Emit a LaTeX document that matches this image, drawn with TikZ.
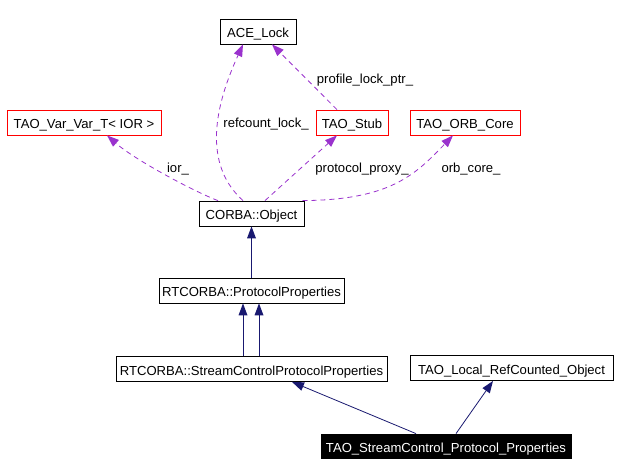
\documentclass[tikz,border=0pt]{standalone}
\usepackage{fontspec}
\setmainfont{Liberation Sans}
\usetikzlibrary{arrows.meta}
\definecolor{usecol}{HTML}{9A32CD}
\definecolor{inhcol}{HTML}{191970}
\begin{document}
\begin{tikzpicture}[x=1pt,y=-1pt,
  every node/.style={font=\fontsize{13.1}{15}\selectfont},
  box/.style={draw=black,line width=0.8pt,fill=white,inner sep=0pt,minimum height=25pt,text height=12.5pt,text depth=0pt},
  redbox/.style={box,draw=red},
  hlbox/.style={box,fill=black,text=white},
  use/.style={draw=usecol,line width=0.8pt,dash pattern=on 5pt off 4pt,-{Triangle[length=12pt,width=9pt,fill=usecol,line width=0pt]}},
  inh/.style={draw=inhcol,line width=0.8pt,-{Triangle[length=12pt,width=9pt,fill=inhcol,line width=0pt]}},
  lbl/.style={inner sep=1pt}]
\useasboundingbox (0,0) rectangle (619,475);
\fill[white] (0,0) rectangle (619,475);

\node[box, minimum width=76pt] (ace) at (258,31.5) {ACE\_Lock};
\node[redbox, minimum width=154pt] (var) at (84,122.5) {TAO\_Var\_Var\_T< IOR >};
\node[redbox, minimum width=72pt] (stub) at (352,122.5) {TAO\_Stub};
\node[redbox, minimum width=110pt] (orb) at (465,122.5) {TAO\_ORB\_Core};
\node[box, minimum width=105pt] (obj) at (251.5,213.5) {CORBA::Object};
\node[box, minimum width=185pt] (pp) at (251.5,290.5) {RTCORBA::ProtocolProperties};
\node[box, minimum width=271pt] (scpp) at (251.5,369) {RTCORBA::StreamControlProtocolProperties};
\node[box, minimum width=203pt] (loc) at (511.5,368) {TAO\_Local\_RefCounted\_Object};
\node[hlbox, minimum width=250pt, minimum height=24pt] (tscpp) at (446,446) {TAO\_StreamControl\_Protocol\_Properties};

% usage relations
\draw[use] ([xshift=-8.5pt]obj.north) .. controls (198,160) and (220,95) .. ([xshift=-15pt]ace.south);
\draw[use] ([xshift=-15pt]stub.north) -- ([xshift=14pt]ace.south);
\draw[use] ([xshift=-33.5pt]obj.north) .. controls (195,192) and (135,160) .. ([xshift=23pt]var.south);
\draw[use] ([xshift=13.5pt]obj.north) -- ([xshift=-15pt]stub.south);
\draw[use] ([xshift=51pt]obj.north) .. controls (390,200) and (415,175) .. ([xshift=-12pt]orb.south);

\node[lbl] (l1) at (266,124) {refcount\_lock\_};
\node[lbl] (l2) at (365,80) {profile\_lock\_ptr\_};
\node[lbl] (l3) at (178,169) {ior\_};
\node[lbl] (l4) at (362,169) {protocol\_proxy\_};
\node[lbl] (l5) at (471,169) {orb\_core\_};

% inheritance
\draw[inh] (pp.north) -- (obj.south);
\draw[inh] ([xshift=-8.5pt]scpp.north) -- ([xshift=-8.5pt]pp.south);
\draw[inh] ([xshift=7.5pt]scpp.north) -- ([xshift=7.5pt]pp.south);
\draw[inh] ([xshift=-30pt]tscpp.north) -- ([xshift=40.5pt]scpp.south);
\draw[inh] ([xshift=10pt]tscpp.north) -- ([xshift=-18.5pt]loc.south);
\end{tikzpicture}
\end{document}
